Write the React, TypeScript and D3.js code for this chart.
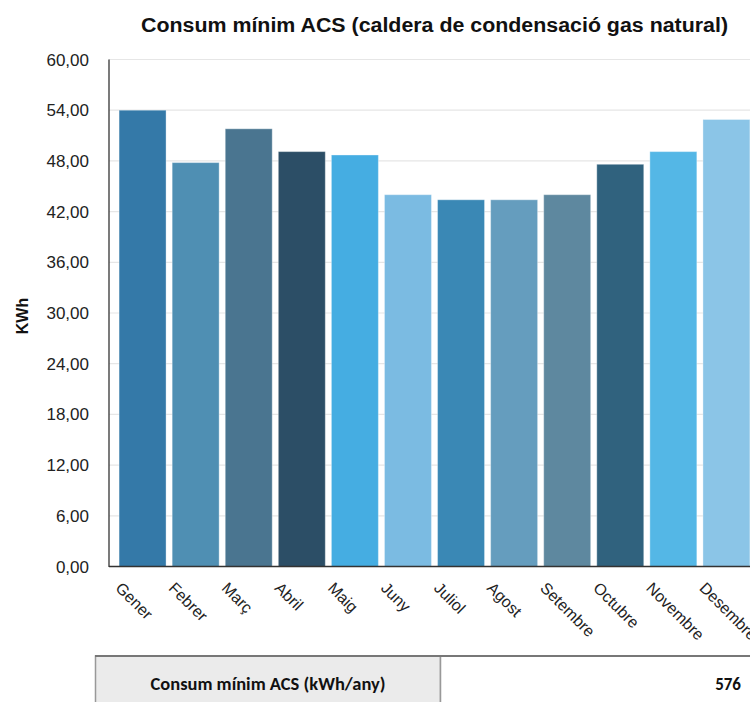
import React from "react";
import * as d3 from "d3";

const months = ["Gener", "Febrer", "Març", "Abril", "Maig", "Juny", "Juliol", "Agost", "Setembre", "Octubre", "Novembre", "Desembre"];
const values = [54.0, 47.8, 51.8, 49.1, 48.7, 44.0, 43.4, 43.4, 44.0, 47.6, 49.1, 52.9];
const colors = ["#3479a8", "#4f8fb3", "#4a7590", "#2c4e66", "#45ade2", "#7bbbe2", "#3a88b5", "#659dbe", "#5e889f", "#30627e", "#54b7e6", "#8bc5e7"];
const yTicks = [0, 6, 12, 18, 24, 30, 36, 42, 48, 54, 60];
const title = "Consum mínim ACS (caldera de condensació gas natural)";
const yTitle = "KWh";
const tableLabel = "Consum mínim ACS (kWh/any)";
const tableValue = "576";

export default function App() {
  const W = 750, H = 702;
  const x0 = 109, y0 = 566.5, yTop = 59.5;
  const x = d3.scaleBand<string>().domain(months).range([x0, 760]).paddingInner(0.115).paddingOuter(0.19);
  const y = d3.scaleLinear().domain([0, 60]).range([y0, yTop]);
  const fmt = (v: number) => v.toFixed(2).replace(".", ",");
  const font = "'Liberation Sans', Arial, Helvetica, sans-serif";
  const tfont = "Carlito, 'Open Sans', 'Liberation Sans', sans-serif";
  return (
    <svg width={W} height={H} style={{ position: "absolute", left: 0, top: 0, background: "#fff", fontFamily: font }}>
      <text x={434.5} y={31.5} textAnchor="middle" fontSize={20} fontWeight="bold" fill="#111"
        textLength={587} lengthAdjust="spacingAndGlyphs" style={{ fontFamily: font }}>{title}</text>
      {yTicks.map((t) => (
        <g key={t}>
          {t > 0 && <line x1={x0} x2={W} y1={y(t)} y2={y(t)} stroke="#e6e6e6" strokeWidth={1.2} />}
          <text x={89} y={y(t) + 6} textAnchor="end" fontSize={17} fill="#222" style={{ fontFamily: font }}>{fmt(t)}</text>
        </g>
      ))}
      {months.map((m, i) => (
        <rect key={m} x={x(m)!} y={y(values[i])} width={x.bandwidth()} height={y0 - y(values[i])}
          fill={colors[i]} stroke="rgba(255,255,255,0.35)" strokeWidth={1} />
      ))}
      <line x1={x0} x2={x0} y1={yTop} y2={y0 + 0.5} stroke="#333" strokeWidth={1.3} />
      <line x1={x0} x2={W} y1={y0} y2={y0} stroke="#333" strokeWidth={1.5} />
      {months.map((m) => {
        const cx = x(m)! + x.bandwidth() / 2 - 28;
        return (
          <text key={m} transform={`translate(${cx},589) rotate(45)`} fontSize={16} fill="#222" style={{ fontFamily: font }}>{m}</text>
        );
      })}
      <text transform={`translate(28,316) rotate(-90)`} textAnchor="middle" fontSize={16} fontWeight="bold" fill="#111" style={{ fontFamily: font }}>{yTitle}</text>
      <rect x={95.5} y={656} width={345} height={60} fill="#ebebeb" stroke="#999" strokeWidth={1.5} />
      <rect x={440.5} y={656} width={330} height={60} fill="#fff" stroke="#999" strokeWidth={1.5} />
      <line x1={95} x2={W} y1={656} y2={656} stroke="#777" strokeWidth={2} />
      <text x={268} y={690} textAnchor="middle" fontSize={17} fontWeight="bold" fill="#111"
        textLength={235} lengthAdjust="spacingAndGlyphs" style={{ fontFamily: tfont }}>{tableLabel}</text>
      <text x={741} y={690} textAnchor="end" fontSize={17} fontWeight="bold" fill="#111" style={{ fontFamily: tfont }}>{tableValue}</text>
    </svg>
  );
}
